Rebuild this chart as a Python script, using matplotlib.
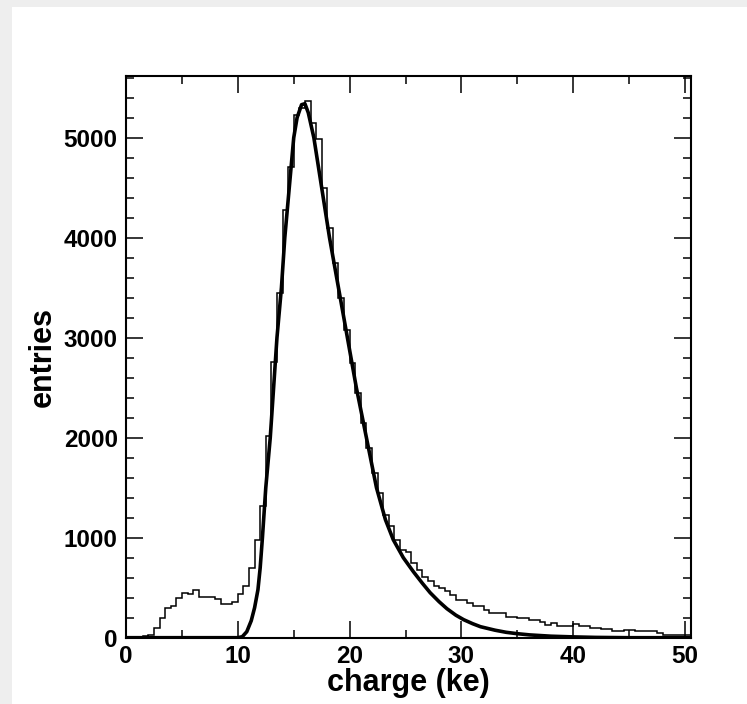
import numpy as np
import matplotlib.pyplot as plt
from matplotlib.patches import Rectangle
from matplotlib.ticker import MultipleLocator

plt.rcParams['font.family'] = ['Liberation Sans', 'DejaVu Sans']
plt.rcParams['font.weight'] = 'bold'

# histogram: 101 bins of 0.5 ke from 0 to 50.5
bin_width = 0.5
counts = [0, 3, 10, 15, 27, 94, 194, 294, 317, 394,
          450, 440, 477, 410, 410, 410, 387, 334, 334, 360,
          434, 517, 694, 977, 1320, 2020, 2760, 3450, 4280, 4710,
          5230, 5300, 5370, 5150, 4990, 4500, 4100, 3750, 3400, 3080,
          2750, 2450, 2150, 1900, 1650, 1450, 1230, 1120, 980, 880,
          860, 750, 680, 610, 565, 520, 495, 470, 430, 380,
          375, 345, 320, 315, 280, 250, 250, 245, 210, 210,
          200, 195, 178, 175, 160, 128, 150, 118, 117, 115,
          137, 120, 117, 95, 94, 92, 90, 68, 66, 77,
          75, 67, 68, 66, 65, 45, 30, 28, 27, 27,
          26]

# fit curve
fit_x = [0, 10.0, 10.4, 10.8, 11.2, 11.5, 11.8, 12.0, 12.2, 12.5,
         12.9, 13.2, 13.5, 13.9, 14.2, 14.6, 15.0, 15.3, 15.7, 16.0,
         16.3, 16.8, 17.5, 18.2, 19.0, 19.8, 20.6, 21.5, 22.4, 23.2,
         23.9, 24.8, 25.7, 26.5, 27.2, 28.0, 28.7, 29.5, 30.2, 31.0,
         31.7, 33.0, 34.0, 35.0, 36.1, 38.0, 40.0, 42.0, 45.0, 50.5]
fit_y = [0, 0, 10, 60, 170, 300, 480, 700, 1000, 1500,
         2000, 2500, 3000, 3500, 4000, 4500, 5000, 5200, 5330, 5340,
         5250, 5000, 4500, 4000, 3500, 3000, 2500, 2000, 1500, 1180,
         980, 800, 660, 545, 450, 360, 290, 225, 180, 140,
         110, 75, 54, 40, 28, 15, 8, 3, 0, 0]

fig = plt.figure(figsize=(7.47, 7.04), dpi=100)
fig.patch.set_facecolor('#eeeeee')
fig.patches.append(Rectangle((12 / 747, 0), 1, 1 - 7 / 704, transform=fig.transFigure,
                             facecolor='white', edgecolor='none', zorder=-1))

ax = fig.add_axes([126 / 747, 1 - 637.7 / 704, 564.7 / 747, 562.2 / 704])
ax.set_facecolor('white')

edges = np.arange(len(counts) + 1) * bin_width
ax.stairs(counts, edges, color='black', linewidth=1.1, baseline=None)
ax.plot(fit_x, fit_y, color='black', linewidth=2.6, solid_joinstyle='round')

ax.set_xlim(0, 50.5)
ax.set_ylim(0, 5622)
ax.xaxis.set_major_locator(MultipleLocator(10))
ax.xaxis.set_minor_locator(MultipleLocator(5))
ax.yaxis.set_major_locator(MultipleLocator(1000))
ax.yaxis.set_minor_locator(MultipleLocator(200))

ax.tick_params(which='both', direction='in', top=True, right=True, width=1.1,
               labelsize=17.5)
ax.tick_params(which='major', length=12)
ax.tick_params(which='minor', length=6)
ax.tick_params(axis='y', pad=6)
ax.tick_params(axis='x', pad=5)
for lab in ax.get_xticklabels() + ax.get_yticklabels():
    lab.set_fontweight('bold')
for sp in ax.spines.values():
    sp.set_linewidth(1.5)

ax.set_xlabel('charge (ke)', fontsize=22, fontweight='bold', labelpad=0)
ax.set_ylabel('entries', fontsize=22, fontweight='bold', labelpad=4)

fig.savefig('out.png', dpi=100, facecolor=fig.get_facecolor())
